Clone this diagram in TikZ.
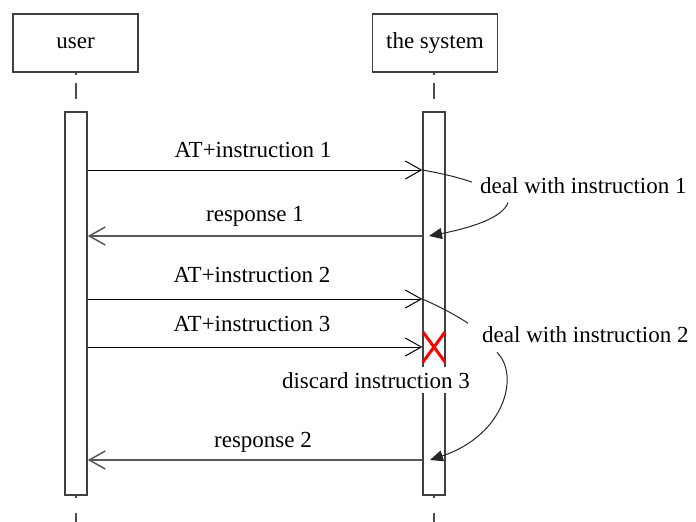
\documentclass[tikz,border=0pt]{standalone}
\usepackage{fontspec}
\setmainfont{Liberation Serif}
\usetikzlibrary{arrows.meta}
\begin{document}
\begin{tikzpicture}[x=1pt,y=-1pt, font=\fontsize{23}{26}\selectfont,
  actor/.style={draw=black!75, line width=1.8pt, fill=white, minimum width=125pt, minimum height=58pt, inner sep=0pt},
  actbar/.style={draw=black!75, line width=1.4pt, fill=white, minimum width=22pt, minimum height=383pt, inner sep=0pt},
  life/.style={draw=black!70, line width=1.4pt},
  call/.style={black, line width=1pt, -{Straight Barb[length=16pt,width=18pt]}},
  reply/.style={black!65, line width=1.5pt, -{Straight Barb[length=16pt,width=18pt]}},
  note/.style={black!85, line width=1pt},
  notearrow/.style={note, -{Triangle[length=13pt,width=11pt]}},
  msg/.style={anchor=base, inner sep=0pt},
]
\useasboundingbox (0,0) rectangle (696,522);
% actors
\node[actor] (user) at (75.5,43) {user};
\node[actor] (sys) at (435,43) {the system};
% activation bars
\node[actbar] (ubar) at (76,303.5) {};
\node[actbar] (sbar) at (434,303.5) {};
% lifelines
\coordinate (uend) at (76,522);
\coordinate (send) at (434,522);
\draw[life, dash pattern=on 2pt off 8pt on 16pt off 14pt on 4pt] (ubar.north |- user.south) -- (ubar.north);
\draw[life, dash pattern=on 2pt off 8pt on 16pt off 14pt on 4pt] (sbar.north |- sys.south) -- (sbar.north);
\draw[life, dash pattern=on 2pt off 15pt on 20pt] (ubar.south) -- (uend);
\draw[life, dash pattern=on 2pt off 15pt on 20pt] (sbar.south) -- (send);
% message levels
\coordinate (y1) at (0,170);
\coordinate (y2) at (0,236);
\coordinate (y3) at (0,299);
\coordinate (y4) at (0,347);
\coordinate (y5) at (0,460);
% messages
\draw[call] (ubar.east |- y1) -- (sbar.west |- y1);
\draw[reply] (sbar.west |- y2) -- (ubar.east |- y2);
\draw[call] (ubar.east |- y3) -- (sbar.west |- y3);
\draw[call] (ubar.east |- y4) -- (sbar.west |- y4);
\draw[reply] (sbar.west |- y5) -- (ubar.east |- y5);
% message labels
\node[msg] (l1) at (253,157) {AT+instruction 1};
\node[msg] (l2) at (255,221) {response 1};
\node[msg] (l3) at (252,282) {AT+instruction 2};
\node[msg] (l4) at (252,331) {AT+instruction 3};
\node[msg] (l5) at (263,447) {response 2};
% notes
\node[msg, anchor=base west] (dwi1) at (480,193) {deal with instruction 1};
\node[msg, anchor=base west] (dwi2) at (482,342) {deal with instruction 2};
\draw[note] (sbar.west |- y1) .. controls (445,174) and (460,178) .. ([xshift=-8pt,yshift=3pt]dwi1.west);
\draw[notearrow] ([xshift=28pt,yshift=-9pt]dwi1.south west) .. controls (503,218) and (470,228) .. ([xshift=-5pt]sbar.center |- y2);
\draw[note] (sbar.west |- y3) .. controls (443,308) and (455,315) .. ([xshift=-14pt,yshift=11pt]dwi2.west);
\draw[notearrow] ([xshift=15pt,yshift=-10pt]dwi2.south west) .. controls (520,375) and (505,435) .. ([xshift=-4pt]sbar.center |- y5);
% discarded message
\coordinate (xc) at (434,347);
\draw[red, line width=3pt] (423,332) -- (445,362) (445,332) -- (423,362);
\node[msg, fill=white, inner sep=5pt] (disc) at (376,388) {discard instruction 3};
\end{tikzpicture}
\end{document}
